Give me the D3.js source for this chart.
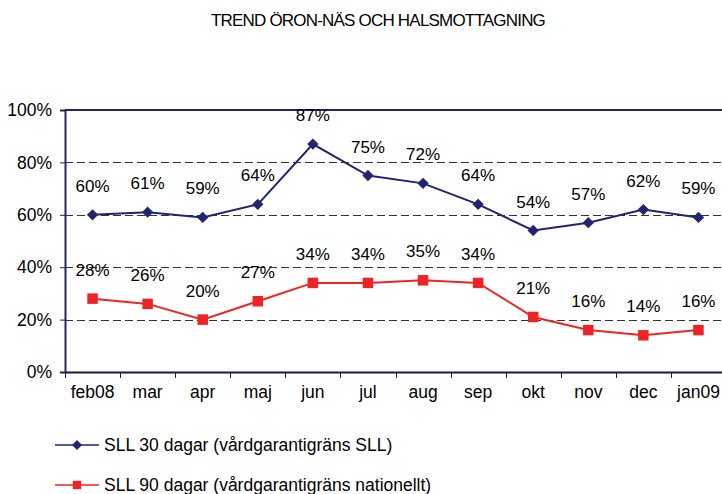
<!DOCTYPE html>
<html>
<head>
<meta charset="utf-8">
<script src="https://cdn.jsdelivr.net/npm/d3@7"></script>
<style>
  body { margin: 0; background: #fff; }
  svg { display: block; font-family: Arial, "Liberation Sans", sans-serif; }
</style>
</head>
<body>
<div id="chart"></div>
<script>
// data
var months = ["feb08", "mar", "apr", "maj", "jun", "jul", "aug", "sep", "okt", "nov", "dec", "jan09"];
var sll30 = [60, 61, 59, 64, 87, 75, 72, 64, 54, 57, 62, 59];
var sll90 = [28, 26, 20, 27, 34, 34, 35, 34, 21, 16, 14, 16];
var yTicks = [0, 20, 40, 60, 80, 100];
var seriesNames = ["SLL 30 dagar (vårdgarantigräns SLL)", "SLL 90 dagar (vårdgarantigräns nationellt)"];

var width = 722, height = 494;
var plotLeft = 65, plotTop = 110, plotBottom = 372, plotRight = 726;

var navy = "#24246e", red = "#ee2424";

var svg = d3.select("#chart").append("svg")
  .attr("width", width)
  .attr("height", height);

/* titel */
svg.append("text")
  .attr("x", 378).attr("y", 26)
  .attr("text-anchor", "middle")
  .style("font-size", "17px")
  .style("letter-spacing", "-0.8px")
  .attr("fill", "#000")
  .text("TREND ÖRON-NÄS OCH HALSMOTTAGNING");

var x = d3.scaleBand().domain(months).range([plotLeft, plotRight]);
var y = d3.scaleLinear().domain([0, 100]).range([plotBottom, plotTop]);

/* streckade stödlinjer */
svg.append("g")
  .selectAll("line")
  .data(yTicks.filter(function(t) { return t > 0 && t < 100; }))
  .enter().append("line")
  .attr("x1", plotLeft).attr("x2", plotRight)
  .attr("y1", function(d) { return Math.round(y(d)) + 0.5; })
  .attr("y2", function(d) { return Math.round(y(d)) + 0.5; })
  .attr("stroke", "#333")
  .attr("stroke-width", 1)
  .attr("stroke-dasharray", "8,4");

/* ram upptill */
svg.append("line")
  .attr("x1", plotLeft).attr("x2", plotRight)
  .attr("y1", y(100)).attr("y2", y(100))
  .attr("stroke", navy).attr("stroke-width", 2);

/* y-axel */
var yAxis = svg.append("g")
  .attr("transform", "translate(" + plotLeft + ",0)")
  .call(d3.axisLeft(y).tickValues(yTicks).tickSize(5).tickPadding(8)
    .tickFormat(function(d) { return d + "%"; }));
yAxis.select(".domain").attr("stroke", navy).attr("stroke-width", 2);
yAxis.selectAll(".tick line").attr("stroke", "#222");
yAxis.selectAll("text").style("font-size", "17.5px").attr("fill", "#000");

/* x-axel, streck mellan kategorierna */
var xAxis = svg.append("g")
  .attr("transform", "translate(0," + plotBottom + ")")
  .call(d3.axisBottom(x).tickSize(0).tickPadding(14));
xAxis.select(".domain").attr("stroke", "#1a1a40").attr("stroke-width", 2);
xAxis.selectAll("text").style("font-size", "17.5px").attr("fill", "#000");
xAxis.selectAll(".sep")
  .data(months)
  .enter().append("line")
  .attr("class", "sep")
  .attr("x1", function(d) { return Math.round(x(d)) + 0.5; })
  .attr("x2", function(d) { return Math.round(x(d)) + 0.5; })
  .attr("y1", 0).attr("y2", 6)
  .attr("stroke", "#222");

var cx = function(d, i) { return x(months[i]) + x.bandwidth() / 2; };

function drawSeries(values, color, diamond, size) {
  var line = d3.line()
    .x(function(d, i) { return cx(d, i); })
    .y(function(d) { return y(d); });

  svg.append("path")
    .datum(values)
    .attr("d", line)
    .attr("fill", "none")
    .attr("stroke", color)
    .attr("stroke-width", 2);

  svg.append("g")
    .selectAll("path")
    .data(values)
    .enter().append("path")
    .attr("d", d3.symbol().type(d3.symbolSquare).size(size))
    .attr("transform", function(d, i) {
      return "translate(" + cx(d, i) + "," + y(d) + ")" + (diamond ? " rotate(45)" : "");
    })
    .attr("fill", color);

  svg.append("g")
    .selectAll("text")
    .data(values)
    .enter().append("text")
    .attr("x", function(d, i) { return cx(d, i); })
    .attr("y", function(d) { return y(d) - 23; })
    .attr("text-anchor", "middle")
    .style("font-size", "17px")
    .attr("fill", "#000")
    .text(function(d) { return d + "%"; });
}

drawSeries(sll90, red, false, 110);
drawSeries(sll30, navy, true, 64);

/* legend */
var legend = svg.append("g")
  .selectAll("g")
  .data([{ name: seriesNames[0], color: navy, diamond: true },
         { name: seriesNames[1], color: red, diamond: false }])
  .enter().append("g")
  .attr("transform", function(d, i) { return "translate(55," + (445 + i * 40) + ")"; });

legend.append("line")
  .attr("x1", 0).attr("x2", 44)
  .attr("stroke", function(d) { return d.color; })
  .attr("stroke-width", 1.5);
legend.append("path")
  .attr("d", function(d) { return d3.symbol().type(d3.symbolSquare).size(d.diamond ? 50 : 70)(); })
  .attr("transform", function(d) { return "translate(22,0)" + (d.diamond ? " rotate(45)" : ""); })
  .attr("fill", function(d) { return d.color; });
legend.append("text")
  .attr("x", 49).attr("y", 6)
  .style("font-size", "17.5px")
  .attr("fill", "#000")
  .text(function(d) { return d.name; });
</script>
</body>
</html>
